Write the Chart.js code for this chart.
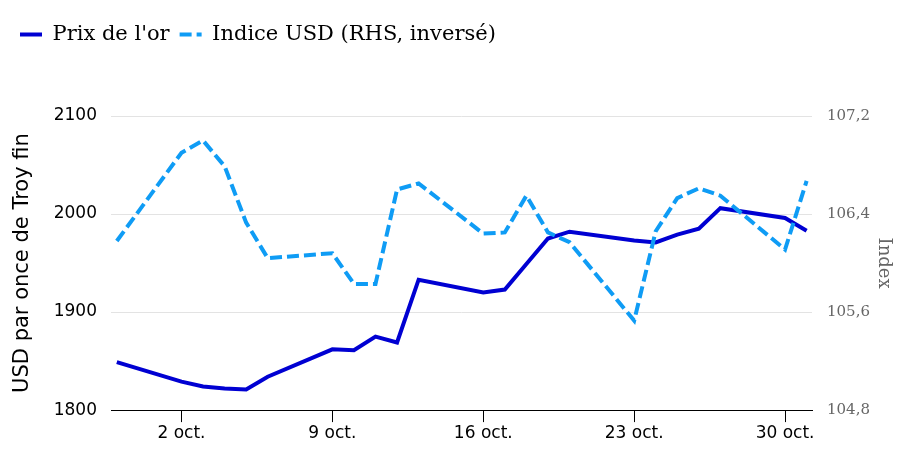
<!DOCTYPE html>
<html lang="fr">
<head>
<meta charset="utf-8">
<title>Prix de l'or et indice USD</title>
<script src="https://cdn.jsdelivr.net/npm/chart.js@4/dist/chart.umd.min.js"></script>
<style>
  html, body { margin: 0; padding: 0; background: #fff; }
  #wrap { width: 900px; height: 450px; }
</style>
</head>
<body>
<div id="wrap"><canvas id="chart" width="900" height="450"></canvas></div>
<script>
// ── Données (jours de bourse, sept.–oct. 2023) ──────────────────────────────
const dates = [
  '2023-09-29',
  '2023-10-02', '2023-10-03', '2023-10-04', '2023-10-05', '2023-10-06',
  '2023-10-09', '2023-10-10', '2023-10-11', '2023-10-12', '2023-10-13',
  '2023-10-16', '2023-10-17', '2023-10-18', '2023-10-19', '2023-10-20',
  '2023-10-23', '2023-10-24', '2023-10-25', '2023-10-26', '2023-10-27',
  '2023-10-30', '2023-10-31'
];

// USD par once de Troy fin
const prixOr = [
  1849,
  1829, 1824, 1822, 1821, 1834,
  1862, 1861, 1875, 1869, 1933,
  1920, 1923, 1949, 1975, 1982,
  1973, 1971, 1979, 1985, 2006,
  1996, 1983
];

// Indice USD (axe de droite)
const indiceUSD = [
  106.18,
  106.90, 107.00, 106.79, 106.33, 106.04,
  106.08, 105.83, 105.83, 106.60, 106.65,
  106.24, 106.25, 106.55, 106.25, 106.17,
  105.53, 106.26, 106.53, 106.61, 106.55,
  106.11, 106.67
];

const tickJours  = [2, 9, 16, 23, 30];
const tickLabels = ['2 oct.', '9 oct.', '16 oct.', '23 oct.', '30 oct.'];

const COULEUR_OR  = '#0000d2';
const COULEUR_USD = '#0f9cf5';
const TIRETS_USD  = [12, 5];

// jour relatif au 1er octobre (1 = 1er oct., -1 = 29 sept.)
function versJour(d) {
  return (Date.parse(d) - Date.parse('2023-10-01')) / 86400000 + 1;
}

const jours = dates.map(versJour);

// ─── Espace sous la légende ──────────────────────────────────────────────────
const margeLegende = {
  id: 'margeLegende',
  beforeInit(chart) {
    const fitOrig = chart.legend.fit;
    chart.legend.fit = function () {
      fitOrig.bind(chart.legend)();
      this.height += 61;
    };
  }
};

new Chart(document.getElementById('chart'), {
  type: 'line',
  data: {
    datasets: [
      {
        label: "Prix de l'or",
        data: jours.map((j, i) => ({ x: j, y: prixOr[i] })),
        yAxisID: 'y',
        borderColor: COULEUR_OR,
        backgroundColor: COULEUR_OR,
        borderWidth: 4,
        pointRadius: 0,
        tension: 0,
        order: 1
      },
      {
        label: 'Indice USD (RHS, inversé)',
        data: jours.map((j, i) => ({ x: j, y: indiceUSD[i] })),
        yAxisID: 'y2',
        borderColor: COULEUR_USD,
        backgroundColor: COULEUR_USD,
        borderWidth: 4,
        borderDash: TIRETS_USD,
        pointRadius: 0,
        tension: 0,
        order: 0
      }
    ]
  },
  options: {
    responsive: false,
    animation: false,
    devicePixelRatio: 1,
    layout: { padding: { top: 14, left: 10, right: 0, bottom: 5.5 } },
    plugins: {
      legend: {
        position: 'top',
        align: 'start',
        labels: {
          usePointStyle: true,
          pointStyle: 'line',
          pointStyleWidth: 22,
          padding: 10,
          color: '#000',
          font: { family: "'DejaVu Serif', serif", size: 21 },
          sort: (a, b) => a.datasetIndex - b.datasetIndex,
          generateLabels: chart => chart.data.datasets.map((ds, i) => ({
            text: ds.label,
            datasetIndex: i,
            fillStyle: ds.borderColor,
            strokeStyle: ds.borderColor,
            fontColor: '#000',
            lineWidth: 4,
            lineDash: ds.borderDash || [],
            pointStyle: 'line',
            hidden: false
          }))
        }
      },
      tooltip: { enabled: false }
    },
    scales: {
      x: {
        type: 'linear',
        min: -1.27,
        max: 31.25,
        afterBuildTicks: scale => {
          scale.ticks = tickJours.map(v => ({ value: v }));
        },
        ticks: {
          color: '#000',
          padding: 1,
          maxRotation: 0,
          font: { family: "'DejaVu Sans', sans-serif", size: 17 },
          callback: v => tickLabels[tickJours.indexOf(v)] ?? ''
        },
        grid: {
          drawOnChartArea: false,
          drawTicks: true,
          tickLength: 12,
          tickColor: '#000'
        },
        border: { display: true, color: '#000', width: 1 }
      },
      y: {
        position: 'left',
        min: 1800,
        max: 2100,
        afterFit: s => { s.width = 101; },
        ticks: {
          stepSize: 100,
          padding: 14,
          color: '#000',
          font: { family: "'DejaVu Sans', sans-serif", size: 17 },
          callback: v => String(v)
        },
        grid: { color: '#e3e3e3', drawTicks: false },
        border: { display: false },
        title: {
          display: true,
          text: 'USD par once de Troy fin',
          color: '#000',
          padding: { top: 0, bottom: 0 },
          font: { family: "'DejaVu Sans', sans-serif", size: 21 }
        }
      },
      y2: {
        position: 'right',
        min: 104.8,
        max: 107.2,
        afterFit: s => { s.width = 88; },
        ticks: {
          stepSize: 0.8,
          padding: 15,
          color: '#666',
          font: { family: "'DejaVu Serif', serif", size: 15 },
          callback: v => Number(v).toFixed(1).replace('.', ',')
        },
        grid: { display: false, drawOnChartArea: false, drawTicks: false },
        border: { display: false },
        title: {
          display: true,
          text: 'Index',
          color: '#666',
          padding: { top: 6, bottom: 0 },
          font: { family: "'DejaVu Serif', serif", size: 18 }
        }
      }
    }
  },
  plugins: [margeLegende]
});
</script>
</body>
</html>
